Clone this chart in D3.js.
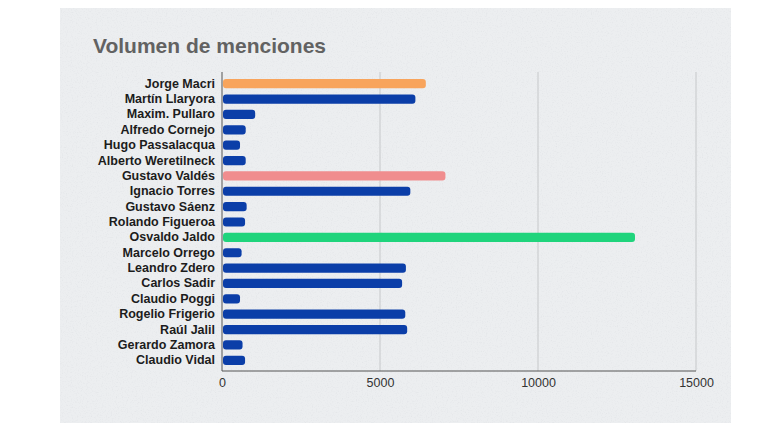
<!DOCTYPE html>
<html>
<head>
<meta charset="utf-8">
<script src="https://cdn.jsdelivr.net/npm/d3@7"></script>
<style>
  html, body { margin: 0; padding: 0; background: #ffffff; }
  svg { display: block; }
</style>
</head>
<body>
<div id="chart"></div>
<script>
const names = [
  "Jorge Macri", "Martín Llaryora", "Maxim. Pullaro", "Alfredo Cornejo",
  "Hugo Passalacqua", "Alberto Weretilneck", "Gustavo Valdés", "Ignacio Torres",
  "Gustavo Sáenz", "Rolando Figueroa", "Osvaldo Jaldo", "Marcelo Orrego",
  "Leandro Zdero", "Carlos Sadir", "Claudio Poggi", "Rogelio Frigerio",
  "Raúl Jalil", "Gerardo Zamora", "Claudio Vidal"
];
const mentions = [
  6450, 6120, 1050, 750,
  570, 750, 7070, 5960,
  780, 730, 13070, 620,
  5820, 5700, 570, 5800,
  5860, 650, 730
];
// highlighted governors get their own colour, the rest are blue
const highlight = {
  "Jorge Macri": "#f8a45c",
  "Gustavo Valdés": "#f08d8e",
  "Osvaldo Jaldo": "#1fd47c"
};
const xTicks = [0, 5000, 10000, 15000];

const width = 768;
const height = 432;

const svg = d3.select("#chart")
  .append("svg")
  .attr("width", width)
  .attr("height", height)
  .style("font-family", "'Liberation Sans', Arial, sans-serif");

// paper-like texture for the panel
const defs = svg.append("defs");
const filter = defs.append("filter").attr("id", "paper")
  .attr("x", 0).attr("y", 0).attr("width", "100%").attr("height", "100%");
filter.append("feTurbulence")
  .attr("type", "fractalNoise")
  .attr("baseFrequency", 0.8)
  .attr("numOctaves", 3)
  .attr("seed", 4)
  .attr("result", "noise");
filter.append("feColorMatrix")
  .attr("in", "noise")
  .attr("type", "matrix")
  .attr("values", "0 0 0 0 0.6  0 0 0 0 0.62  0 0 0 0 0.65  0 0 0 -1.2 0.6");
filter.append("feComposite").attr("in2", "SourceGraphic").attr("operator", "in");

svg.append("rect")
  .attr("x", 60).attr("y", 8)
  .attr("width", 671).attr("height", 415)
  .attr("fill", "#eceef0");
svg.append("rect")
  .attr("x", 60).attr("y", 8)
  .attr("width", 671).attr("height", 415)
  .attr("fill", "#eceef0")
  .attr("filter", "url(#paper)")
  .attr("opacity", 0.5);

svg.append("text")
  .attr("x", 93)
  .attr("y", 53)
  .attr("fill", "#626262")
  .attr("font-size", 21)
  .attr("font-weight", "bold")
  .text("Volumen de menciones");

const x = d3.scaleLinear()
  .domain([0, 15000])
  .range([222, 696]);

const y = d3.scaleBand()
  .domain(names)
  .range([76, 368])
  .paddingInner(0.4)
  .paddingOuter(0.2);

const plotTop = 72;
const plotBottom = 371;

// vertical gridlines
svg.append("g")
  .selectAll("line")
  .data(xTicks.slice(1))
  .join("line")
  .attr("x1", d => x(d)).attr("x2", d => x(d))
  .attr("y1", plotTop).attr("y2", plotBottom)
  .attr("stroke", "#c6c8ca")
  .attr("stroke-width", 1);

// bars
svg.append("g")
  .selectAll("rect")
  .data(names)
  .join("rect")
  .attr("x", x(0) + 1)
  .attr("y", d => y(d))
  .attr("width", (d, i) => x(mentions[i]) - x(0) - 1)
  .attr("height", y.bandwidth())
  .attr("rx", 3)
  .attr("fill", d => highlight[d] || "#0b3ea8");

// category labels
const yAxis = svg.append("g")
  .attr("transform", `translate(${x(0)},0)`)
  .call(d3.axisLeft(y).tickSize(0).tickPadding(7));
yAxis.select(".domain")
  .attr("stroke", "#555555")
  .attr("d", `M0,${plotTop}V${plotBottom}`);
yAxis.selectAll("text")
  .attr("fill", "#1c1c1c")
  .attr("font-size", 12.5)
  .attr("font-weight", "bold")
  .attr("font-family", "'Liberation Sans', Arial, sans-serif");

// value axis
const xAxis = svg.append("g")
  .attr("transform", `translate(0,${plotBottom})`)
  .call(d3.axisBottom(x).tickValues(xTicks).tickFormat(d3.format("d")).tickSize(0).tickPadding(7));
xAxis.select(".domain")
  .attr("stroke", "#555555")
  .attr("d", `M${x(0)},0H${x(15000)}`);
xAxis.selectAll("text")
  .attr("fill", "#333333")
  .attr("font-size", 12.5)
  .attr("font-family", "'Liberation Sans', Arial, sans-serif");
</script>
</body>
</html>
